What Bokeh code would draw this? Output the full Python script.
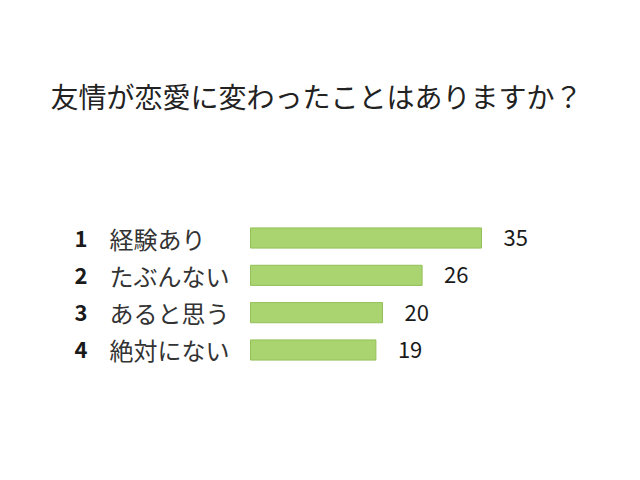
from bokeh.plotting import figure
from bokeh.models import Range1d, Label, ColumnDataSource
from bokeh.core.properties import value
from bokeh.embed import file_html
from bokeh.resources import INLINE

title_text = "友情が恋愛に変わったことはありますか？"
ranks = [1, 2, 3, 4]
rank_labels = ["1", "2", "3", "4"]
categories = ["経験あり", "たぶんない", "あると思う", "絶対にない"]
counts = [35, 26, 20, 19]

W, H = 624, 464
px_per_unit = 6.6
x0_page = 250
x_start = -x0_page / px_per_unit
x_end = x_start + W / px_per_unit

row_px = 37.33
top_row_page = 237.5
y_top = 1 + (0 - top_row_page) / row_px
y_bottom = 1 + (H - top_row_page) / row_px

p = figure(width=W, height=H, output_backend="svg", toolbar_location=None,
           x_range=Range1d(x_start, x_end), y_range=Range1d(y_bottom, y_top),
           min_border=0, min_border_left=0, min_border_right=0,
           min_border_top=0, min_border_bottom=0)
p.axis.visible = False
p.grid.visible = False
p.outline_line_color = None
p.background_fill_color = "white"
p.border_fill_color = "white"

src = ColumnDataSource(dict(rank=ranks, rl=rank_labels, cat=categories,
                            cnt=counts, cnt_s=[str(c) for c in counts],
                            zero=[0] * len(ranks)))

p.hbar(y="rank", left="zero", right="cnt", height=0.54, source=src,
       fill_color="#a9d46f", line_color="#94c05a", line_width=1)

font = value("Noto Sans CJK JP")
p.text(x="zero", y="rank", text="rl", source=src, x_offset=-176,
       text_font=font, text_font_size="22px", text_font_style="bold",
       text_baseline="middle", text_align="left", text_color="#1a1a1a")
p.text(x="zero", y="rank", text="cat", source=src, x_offset=-141,
       text_font=font, text_font_size="24px",
       text_baseline="middle", text_align="left", text_color="#333333")
p.text(x="cnt", y="rank", text="cnt_s", source=src, x_offset=22,
       text_font=font, text_font_size="22px",
       text_baseline="middle", text_align="left", text_color="#1a1a1a")

p.add_layout(Label(x=50, y=H - 95, x_units="screen", y_units="screen",
                   text=title_text, text_font="Noto Sans CJK JP",
                   text_font_size="28px", text_baseline="middle",
                   text_align="left", text_color="#222222"))

open("out.html", "w").write(file_html(p, INLINE))
